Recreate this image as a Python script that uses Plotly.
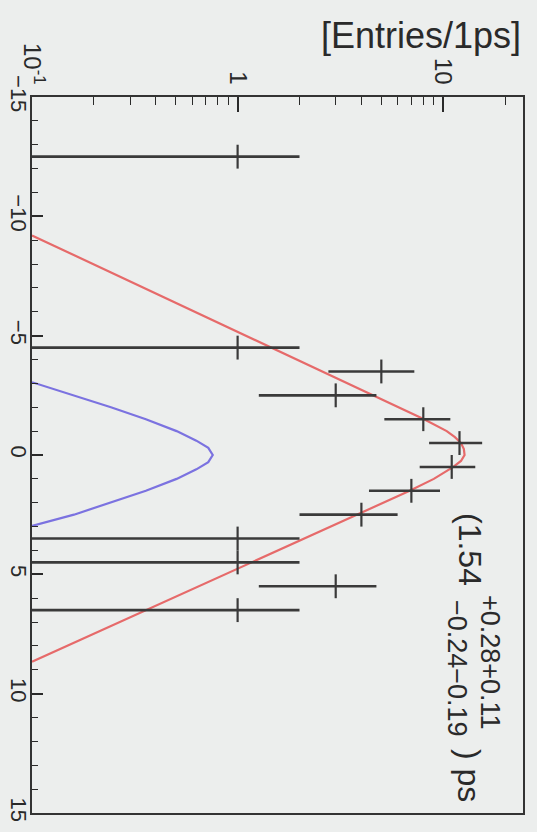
import math
import plotly.graph_objects as go

# ---- data ----
time_bins = [-12.5, -4.5, -3.5, -2.5, -1.5, -0.5, 0.5, 1.5, 2.5, 3.5, 4.5, 5.5, 6.5]
entries = [1, 1, 5, 3, 8, 12, 11, 7, 4, 1, 1, 3, 1]
bin_half_width = 0.5

fit_t = [-9.2, -8, -7, -6, -5, -4, -3, -2, -1.5, -1, -0.75, -0.5, -0.25, 0,
         0.25, 0.5, 0.75, 1, 1.5, 2, 3, 4, 5, 6, 7, 8, 8.66]
fit_vals = [0.100, 0.198, 0.351, 0.620, 1.10, 1.94, 3.43, 6.07, 8.07, 10.4, 11.4, 12.2, 12.6, 12.7,
            12.2, 11.2, 10.1, 9.0, 6.87, 5.12, 2.83, 1.57, 0.869, 0.481, 0.266, 0.148, 0.100]

sig_t = [-3.05, -2.5, -2.0, -1.5, -1.0, -0.6, -0.3, 0, 0.3, 0.6, 1.0, 1.5, 2.0, 2.5, 2.97]
sig_vals = [0.100, 0.160, 0.242, 0.358, 0.505, 0.630, 0.720, 0.757, 0.720, 0.630, 0.505,
            0.358, 0.242, 0.160, 0.100]

count_tick_vals = [0.1, 1, 10]
count_tick_text = ["10<sup>-1</sup>", "1", "10"]
count_minor_vals = [0.2, 0.3, 0.4, 0.5, 0.6, 0.7, 0.8, 0.9, 2, 3, 4, 5, 6, 7, 8, 9, 20]
time_tick_vals = [-15, -10, -5, 0, 5, 10, 15]

count_title = "[Entries/1ps]"
result_main = "(1.54"
result_up = "+0.28+0.11"
result_down = "\u22120.24\u22120.19"
result_unit = ") ps"

# ---- styling ----
BG = "#eceeed"
INK = "#2a2a2a"
FONT = "Liberation Sans, Arial, Helvetica, sans-serif"

err_plus = [math.sqrt(n) for n in entries]
err_minus = [math.sqrt(n) for n in entries]

fig = go.Figure()

fig.add_trace(go.Scatter(
    x=fit_vals, y=fit_t, mode="lines",
    line=dict(color="#e66a6a", width=2.2), hoverinfo="skip", showlegend=False))
fig.add_trace(go.Scatter(
    x=sig_vals, y=sig_t, mode="lines",
    line=dict(color="#7b72e0", width=2.2), hoverinfo="skip", showlegend=False))
fig.add_trace(go.Scatter(
    x=entries, y=time_bins, mode="markers",
    marker=dict(size=1, color="#3a3a3a"),
    error_x=dict(type="data", symmetric=False, array=err_plus, arrayminus=err_minus,
                 color="#3a3a3a", thickness=2.6, width=0),
    error_y=dict(type="data", array=[bin_half_width] * len(time_bins),
                 color="#3a3a3a", thickness=2.2, width=0),
    hoverinfo="skip", showlegend=False))

fig.update_layout(
    width=537, height=832,
    margin=dict(l=32, r=14, t=97, b=19),
    paper_bgcolor=BG, plot_bgcolor=BG,
    font=dict(family=FONT, color=INK),
    xaxis=dict(
        type="log", range=[-1, 1.388], side="top", automargin=False,
        tickmode="array", tickvals=count_tick_vals, ticktext=count_tick_text,
        tickangle=90, tickfont=dict(size=24, color=INK), ticklabelstandoff=2,
        ticks="inside", ticklen=15, tickwidth=1.5, tickcolor=INK,
        minor=dict(tickmode="array", tickvals=count_minor_vals, ticks="inside",
                   ticklen=8, tickwidth=1.3, tickcolor=INK),
        showline=True, linecolor="#333333", linewidth=2, mirror=True,
        showgrid=False, zeroline=False),
    yaxis=dict(
        range=[15, -15], automargin=False,
        tickmode="array", tickvals=time_tick_vals,
        tickangle=90, tickfont=dict(size=22, color=INK), ticklabelstandoff=-7,
        ticks="inside", ticklen=11, tickwidth=1.5, tickcolor=INK,
        minor=dict(dtick=1, ticks="inside", ticklen=6, tickwidth=1.3, tickcolor=INK),
        showline=True, linecolor="#333333", linewidth=2, mirror=True,
        showgrid=False, zeroline=False),
)

# plot area in pixels: x 32..523, y 97..813
def px(xp):
    return (xp - 32) / 491.0

def py(yp):
    return (813 - yp) / 716.0

fig.add_annotation(text=count_title, xref="paper", yref="paper",
                   x=px(523), y=py(36), xanchor="right", yanchor="middle",
                   showarrow=False, font=dict(size=36, color=INK, family=FONT))
fig.add_annotation(text=result_main, xref="paper", yref="paper",
                   x=px(470), y=py(549), xanchor="center", yanchor="middle",
                   textangle=90, showarrow=False, font=dict(size=32, color=INK, family=FONT))
fig.add_annotation(text=result_up, xref="paper", yref="paper",
                   x=px(490), y=py(662), xanchor="center", yanchor="middle",
                   textangle=90, showarrow=False, font=dict(size=27, color=INK, family=FONT))
fig.add_annotation(text=result_down, xref="paper", yref="paper",
                   x=px(457), y=py(668), xanchor="center", yanchor="middle",
                   textangle=90, showarrow=False, font=dict(size=27, color=INK, family=FONT))
fig.add_annotation(text=result_unit, xref="paper", yref="paper",
                   x=px(469), y=py(775), xanchor="center", yanchor="middle",
                   textangle=90, showarrow=False, font=dict(size=32, color=INK, family=FONT))

fig.write_html("out.html")
